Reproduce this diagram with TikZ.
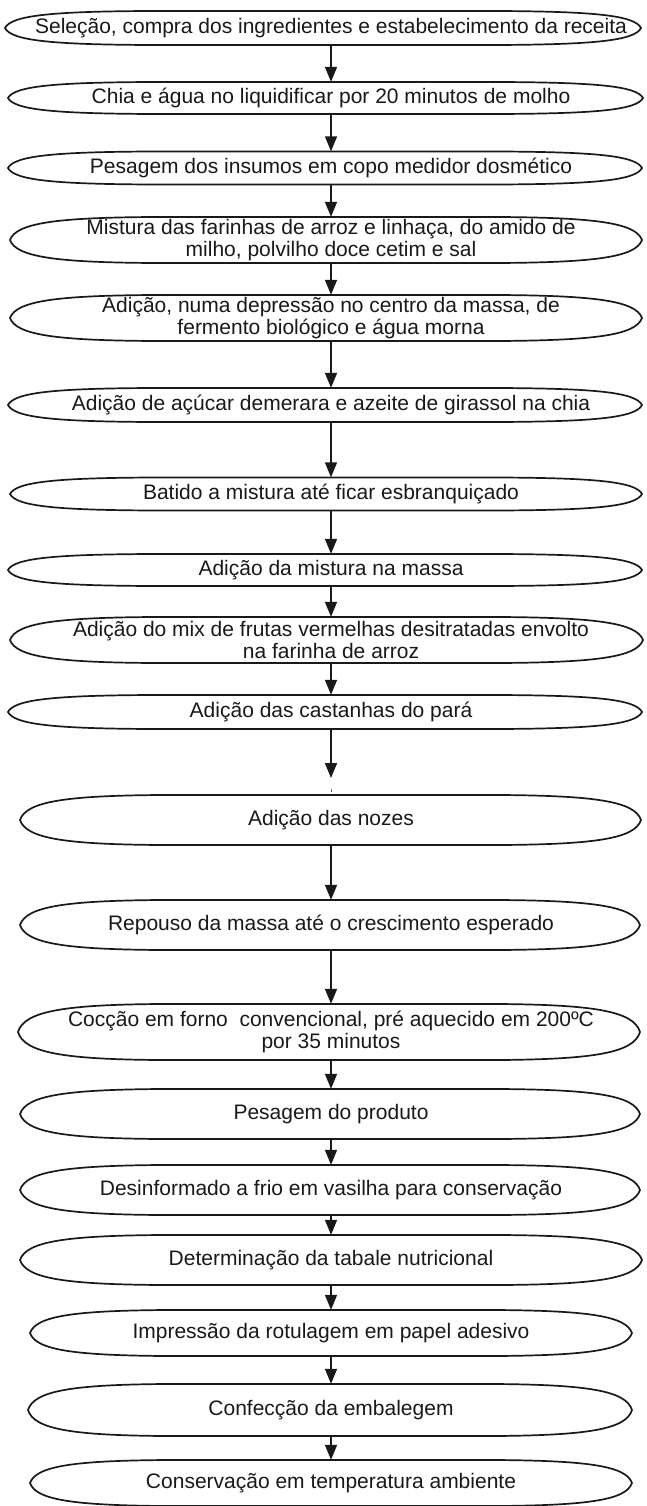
\documentclass[tikz,border=0pt]{standalone}
\usepackage{fontspec}
\setmainfont{Liberation Sans}
\usetikzlibrary{arrows.meta}
\tikzset{
  stepbox/.style={inner sep=0pt, align=center, font=\fontsize{21}{22.5}\selectfont, text=black!90},
  lensline/.style={line width=1.7pt, draw=black!90},
  arr/.style={line width=1.6pt, draw=black!90, -{Triangle[width=12pt,length=15pt]}},
}
% #1 x-left, #2 x-right, #3 y-centre, #4 height
\newcommand\lensoutline[4]{%
  \draw[lensline] (#1,#3)
   .. controls ({#1+0.01*(#2-#1)},{#3-0.375*#4}) and ({#1+0.075*(#2-#1)},{#3-0.485*#4}) .. ({#1+0.225*(#2-#1)},{#3-0.5*#4})
   -- ({#2-0.225*(#2-#1)},{#3-0.5*#4})
   .. controls ({#2-0.075*(#2-#1)},{#3-0.485*#4}) and ({#2-0.01*(#2-#1)},{#3-0.375*#4}) .. (#2,#3)
   .. controls ({#2-0.01*(#2-#1)},{#3+0.375*#4}) and ({#2-0.075*(#2-#1)},{#3+0.485*#4}) .. ({#2-0.225*(#2-#1)},{#3+0.5*#4})
   -- ({#1+0.225*(#2-#1)},{#3+0.5*#4})
   .. controls ({#1+0.075*(#2-#1)},{#3+0.485*#4}) and ({#1+0.01*(#2-#1)},{#3+0.375*#4}) .. cycle;}
% #1 name, #2 x-left, #3 x-right, #4 y-centre, #5 height, #6 text
\newcommand\lensnode[6]{%
  \lensoutline{#2}{#3}{#4}{#5}
  \node[stepbox, minimum height=#5pt] (#1) at (331,#4) {#6};}
\begin{document}
\begin{tikzpicture}[x=1pt,y=-1pt]
\useasboundingbox[fill=white] (0,0) rectangle (646,1506);

\lensnode{n1}{5}{641}{28}{34}{Seleção, compra dos ingredientes e estabelecimento da receita}
\lensnode{n2}{8}{643}{98}{32}{Chia e água no liquidificar por 20 minutos de molho}
\lensnode{n3}{8}{642}{168}{33}{Pesagem dos insumos em copo medidor dosmético}
\lensnode{n4}{10}{642}{240}{46}{Mistura das farinhas de arroz e linhaça, do amido de\\milho, polvilho doce cetim e sal}
\lensnode{n5}{10}{642}{318}{46}{Adição, numa depressão no centro da massa, de\\fermento biológico e água morna}
\lensnode{n6}{8}{642}{405}{34}{Adição de açúcar demerara e azeite de girassol na chia}
\lensnode{n7}{10}{642}{494}{33}{Batido a mistura até ficar esbranquiçado}
\lensnode{n8}{8}{642}{570}{32}{Adição da mistura na massa}
\lensnode{n9}{10}{643}{640}{46}{Adição do mix de frutas vermelhas desitratadas envolto\\na farinha de arroz}
\lensnode{n10}{8}{642}{712}{34}{Adição das castanhas do pará}
\lensnode{n11}{20}{641}{820}{50}{Adição das nozes}
\lensnode{n12}{20}{640}{925}{50}{Repouso da massa até o crescimento esperado}
\lensnode{n13}{18}{640}{1032}{56}{Cocção em forno~ convencional, pré aquecido em 200ºC\\por 35 minutos}
\lensnode{n14}{20}{640}{1114}{50}{Pesagem do produto}
\lensnode{n15}{20}{640}{1190}{50}{Desinformado a frio em vasilha para conservação}
\lensnode{n16}{20}{642}{1260}{50}{Determinação da tabale nutricional}
\lensnode{n17}{30}{632}{1333}{46}{Impressão da rotulagem em papel adesivo}
\lensnode{n18}{28}{632}{1410}{52}{Confecção da embalegem}
\lensnode{n19}{30}{632}{1483}{46}{Conservação em temperatura ambiente}

\foreach \a/\b in {n1/n2,n2/n3,n3/n4,n4/n5,n5/n6,n6/n7,n7/n8,n8/n9,n9/n10,
                   n11/n12,n12/n13,n13/n14,n14/n15,n15/n16,n16/n17,n17/n18,n18/n19}
  \draw[arr] (\a.south) -- (\b.north);

\coordinate (gapend) at (331,778);
\draw[arr] (n10.south) -- (gapend);
\coordinate (tick) at (331,789);
\draw[line width=0.8pt, black!60] (tick) -- ++(0,3);
\end{tikzpicture}
\end{document}
